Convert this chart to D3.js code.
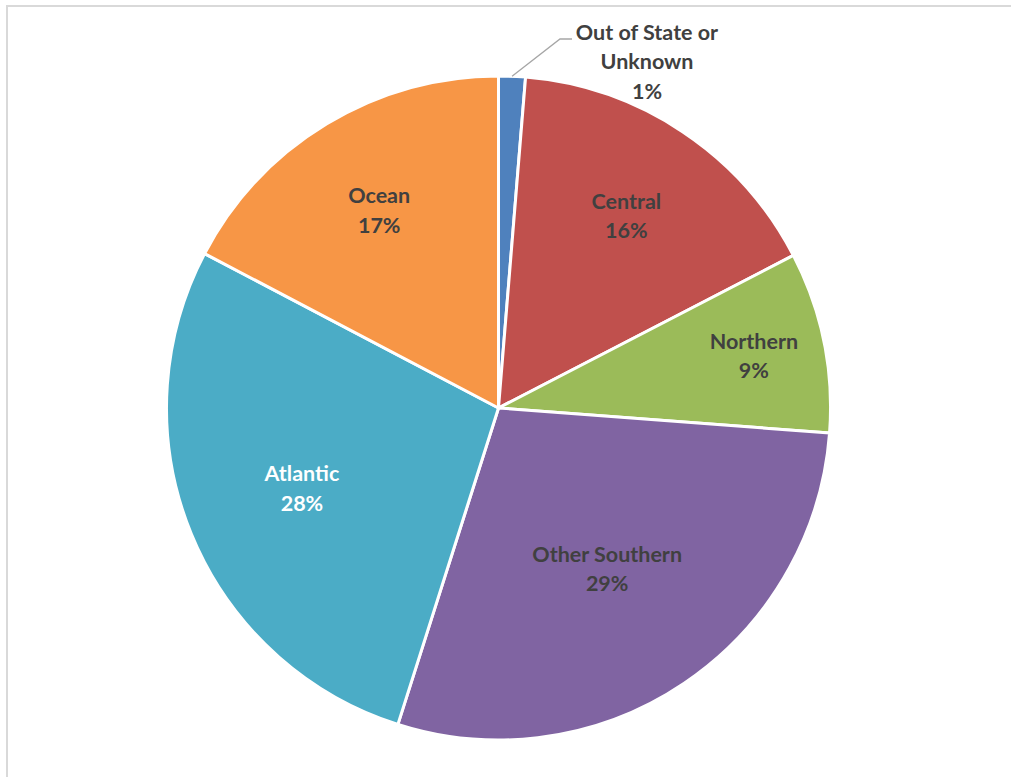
<!DOCTYPE html>
<html>
<head>
<meta charset="utf-8">
<script src="https://cdn.jsdelivr.net/npm/d3@7"></script>
<style>
  html, body { margin: 0; padding: 0; background: #fff; }
  svg { display: block; }
</style>
</head>
<body>
<svg id="chart" width="1011" height="777"></svg>
<script>
// ---- Data ----
const categories = ["Out of State or Unknown", "Central", "Northern", "Other Southern", "Atlantic", "Ocean"];
const values = [1.3, 16.1, 8.8, 28.7, 27.8, 17.3];
const percentLabels = ["1%", "16%", "9%", "29%", "28%", "17%"];
const labelLines = [["Out of State or", "Unknown"], ["Central"], ["Northern"], ["Other Southern"], ["Atlantic"], ["Ocean"]];

// ---- Styles / layout ----
const colors = ["#4F81BD", "#C0504D", "#9BBB59", "#8064A2", "#4BACC6", "#F79646"];
const textColors = ["#404040", "#404040", "#404040", "#404040", "#FFFFFF", "#404040"];
const labelRadiusFactor = [null, 0.695, 0.785, 0.585, 0.64, 0.695];
const cx = 498.5, cy = 408, R = 332;
const lineH = 29.5;
const fontSize = 21.5;

const svg = d3.select("#chart");

// chart border
svg.append("rect")
  .attr("x", 7).attr("y", 6).attr("width", 1010).attr("height", 780)
  .attr("fill", "none").attr("stroke", "#d9d9d9").attr("stroke-width", 2);

const data = categories.map((c, i) => ({ name: c, value: values[i], i }));
const pie = d3.pie().value(d => d.value).sort(null);
const arcs = pie(data);
const arc = d3.arc().innerRadius(0).outerRadius(R);

const g = svg.append("g").attr("transform", `translate(${cx},${cy})`);

g.selectAll("path.slice")
  .data(arcs)
  .join("path")
  .attr("class", "slice")
  .attr("d", arc)
  .attr("fill", d => colors[d.data.i])
  .attr("stroke", "#fff")
  .attr("stroke-width", 3)
  .attr("stroke-linejoin", "round");

const fontFamily = "Lato, 'Open Sans', sans-serif";

// inside labels
arcs.forEach(a => {
  const i = a.data.i;
  if (labelRadiusFactor[i] == null) return;
  const r = R * labelRadiusFactor[i];
  const [x, y] = d3.arc().innerRadius(r).outerRadius(r).centroid(a);
  const lines = labelLines[i].concat([percentLabels[i]]);
  const t = g.append("text")
    .attr("text-anchor", "middle")
    .attr("font-family", fontFamily)
    .attr("font-weight", 700)
    .attr("font-size", fontSize)
    .attr("fill", textColors[i]);
  const y0 = y - (lines.length - 1) * lineH / 2;
  lines.forEach((ln, k) => {
    t.append("tspan").attr("x", x).attr("y", y0 + k * lineH).attr("dy", "0.35em").text(ln);
  });
});

// outside label for the small slice
const small = arcs[0];
const [ox, oy] = d3.arc().innerRadius(R).outerRadius(R).centroid(small);
const elbow = [61.5, -369];
const lineEnd = [73.5, -369];
g.append("polyline")
  .attr("points", [[ox, oy], elbow, lineEnd].map(p => p.join(",")).join(" "))
  .attr("fill", "none")
  .attr("stroke", "#a6a6a6")
  .attr("stroke-width", 1.3);

const outLines = labelLines[0].concat([percentLabels[0]]);
const ot = g.append("text")
  .attr("text-anchor", "middle")
  .attr("font-family", fontFamily)
  .attr("font-weight", 700)
  .attr("font-size", fontSize)
  .attr("fill", textColors[0]);
outLines.forEach((ln, k) => {
  ot.append("tspan").attr("x", 148.5).attr("y", -376 + k * lineH).attr("dy", "0.35em").text(ln);
});
</script>
</body>
</html>
